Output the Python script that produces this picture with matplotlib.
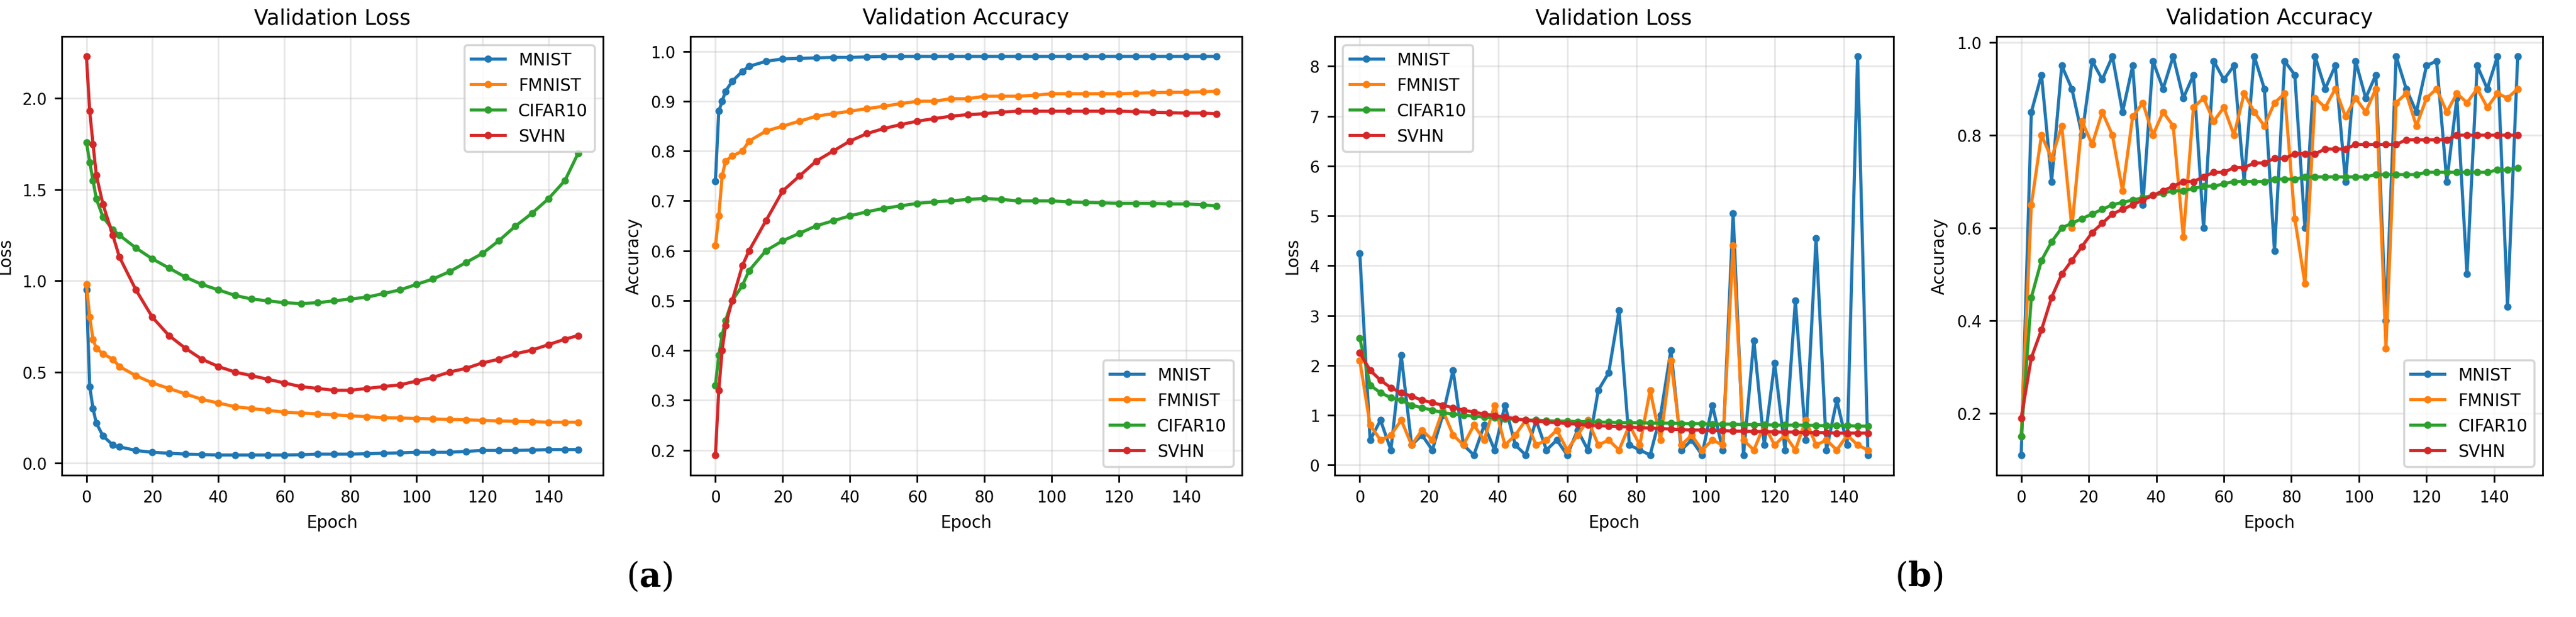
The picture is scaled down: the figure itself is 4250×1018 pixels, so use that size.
import matplotlib
matplotlib.use("Agg")
import matplotlib.pyplot as plt

names = ["MNIST", "FMNIST", "CIFAR10", "SVHN"]
colors = ["#1f77b4", "#ff7f0e", "#2ca02c", "#d62728"]

# (a) smooth runs
a_epochs = [0, 1, 2, 3, 5, 8, 10, 15, 20, 25, 30, 35, 40, 45, 50, 55, 60, 65, 70, 75,
            80, 85, 90, 95, 100, 105, 110, 115, 120, 125, 130, 135, 140, 145, 149]
a_loss = {
    "MNIST": [0.95, 0.42, 0.3, 0.22, 0.15, 0.1, 0.09, 0.07, 0.06, 0.055,
              0.05, 0.048, 0.045, 0.045, 0.045, 0.045, 0.045, 0.047, 0.05, 0.05,
              0.05, 0.052, 0.055, 0.057, 0.06, 0.06, 0.06, 0.065, 0.07, 0.07,
              0.07, 0.072, 0.075, 0.075, 0.075],
    "FMNIST": [0.98, 0.8, 0.68, 0.63, 0.6, 0.57, 0.53, 0.48, 0.44, 0.41,
               0.38, 0.35, 0.33, 0.31, 0.3, 0.29, 0.28, 0.275, 0.27, 0.265,
               0.26, 0.255, 0.25, 0.248, 0.245, 0.243, 0.24, 0.238, 0.235, 0.232,
               0.23, 0.228, 0.225, 0.225, 0.225],
    "CIFAR10": [1.76, 1.65, 1.55, 1.45, 1.35, 1.28, 1.25, 1.18, 1.12, 1.07,
                1.02, 0.98, 0.95, 0.92, 0.9, 0.89, 0.88, 0.875, 0.88, 0.89,
                0.9, 0.91, 0.93, 0.95, 0.98, 1.01, 1.05, 1.1, 1.15, 1.22,
                1.3, 1.37, 1.45, 1.55, 1.7],
    "SVHN": [2.23, 1.93, 1.75, 1.58, 1.42, 1.25, 1.13, 0.95, 0.8, 0.7,
             0.63, 0.57, 0.53, 0.5, 0.48, 0.46, 0.44, 0.42, 0.41, 0.4,
             0.4, 0.41, 0.42, 0.43, 0.45, 0.47, 0.5, 0.52, 0.55, 0.57,
             0.6, 0.62, 0.65, 0.68, 0.7],
}
a_acc = {
    "MNIST": [0.74, 0.88, 0.9, 0.92, 0.94, 0.96, 0.97, 0.98, 0.985, 0.986,
              0.987, 0.988, 0.988, 0.989, 0.99, 0.99, 0.99, 0.99, 0.99, 0.99,
              0.99, 0.99, 0.99, 0.99, 0.99, 0.99, 0.99, 0.99, 0.99, 0.99,
              0.99, 0.99, 0.99, 0.99, 0.99],
    "FMNIST": [0.61, 0.67, 0.75, 0.78, 0.79, 0.8, 0.82, 0.84, 0.85, 0.86,
               0.87, 0.875, 0.88, 0.885, 0.89, 0.895, 0.9, 0.9, 0.905, 0.905,
               0.91, 0.91, 0.91, 0.912, 0.915, 0.915, 0.915, 0.915, 0.915, 0.916,
               0.917, 0.918, 0.918, 0.919, 0.92],
    "CIFAR10": [0.33, 0.39, 0.43, 0.46, 0.5, 0.53, 0.56, 0.6, 0.62, 0.635,
                0.65, 0.66, 0.67, 0.678, 0.685, 0.69, 0.695, 0.698, 0.7, 0.703,
                0.705, 0.703, 0.7, 0.7, 0.7, 0.698, 0.697, 0.696, 0.695, 0.695,
                0.695, 0.694, 0.694, 0.692, 0.69],
    "SVHN": [0.19, 0.32, 0.4, 0.45, 0.5, 0.57, 0.6, 0.66, 0.72, 0.75,
             0.78, 0.8, 0.82, 0.835, 0.845, 0.853, 0.86, 0.865, 0.87, 0.873,
             0.875, 0.878, 0.88, 0.88, 0.88, 0.88, 0.88, 0.88, 0.88, 0.879,
             0.878, 0.877, 0.876, 0.876, 0.875],
}

# (b) noisy runs, every 3rd epoch
b_epochs = list(range(0, 150, 3))
b_loss = {
    "MNIST": [4.25, 0.5, 0.9, 0.3, 2.2, 0.4, 0.6, 0.3, 1.0, 1.9,
              0.4, 0.2, 0.8, 0.3, 1.2, 0.4, 0.2, 0.9, 0.3, 0.5,
              0.2, 0.7, 0.3, 1.5, 1.85, 3.1, 0.4, 0.3, 0.2, 1.0,
              2.3, 0.3, 0.5, 0.2, 1.2, 0.3, 5.05, 0.2, 2.5, 0.4,
              2.05, 0.3, 3.3, 0.5, 4.55, 0.3, 1.3, 0.4, 8.2, 0.2],
    "FMNIST": [2.1, 0.8, 0.5, 0.6, 0.9, 0.4, 0.7, 0.5, 1.1, 0.6,
               0.4, 0.8, 0.5, 1.2, 0.4, 0.6, 0.9, 0.4, 0.5, 0.7,
               0.3, 0.6, 0.9, 0.4, 0.5, 0.3, 0.8, 0.4, 1.5, 0.5,
               2.1, 0.4, 0.6, 0.3, 0.5, 0.4, 4.4, 0.5, 0.3, 0.8,
               0.4, 0.6, 0.3, 0.9, 0.4, 0.5, 0.3, 0.6, 0.4, 0.3],
    "CIFAR10": [2.55, 1.6, 1.45, 1.35, 1.3, 1.2, 1.15, 1.1, 1.05, 1.02,
                1.0, 0.98, 0.96, 0.95, 0.93, 0.92, 0.9, 0.9, 0.89, 0.88,
                0.88, 0.87, 0.87, 0.86, 0.86, 0.85, 0.85, 0.85, 0.84, 0.84,
                0.84, 0.83, 0.83, 0.83, 0.82, 0.82, 0.82, 0.81, 0.81, 0.81,
                0.8, 0.8, 0.8, 0.8, 0.79, 0.79, 0.79, 0.79, 0.78, 0.78],
    "SVHN": [2.25, 1.9, 1.7, 1.55, 1.45, 1.38, 1.3, 1.25, 1.2, 1.15,
             1.1, 1.06, 1.02, 0.99, 0.96, 0.93, 0.9, 0.88, 0.86, 0.85,
             0.83, 0.82, 0.8, 0.79, 0.78, 0.77, 0.76, 0.75, 0.74, 0.73,
             0.72, 0.71, 0.7, 0.7, 0.69, 0.69, 0.68, 0.68, 0.67, 0.67,
             0.66, 0.66, 0.66, 0.65, 0.65, 0.65, 0.64, 0.64, 0.64, 0.64],
}
b_acc = {
    "MNIST": [0.11, 0.85, 0.93, 0.7, 0.95, 0.9, 0.8, 0.96, 0.92, 0.97,
              0.85, 0.95, 0.65, 0.96, 0.9, 0.97, 0.88, 0.93, 0.6, 0.96,
              0.92, 0.95, 0.7, 0.97, 0.9, 0.55, 0.96, 0.93, 0.6, 0.97,
              0.9, 0.95, 0.7, 0.96, 0.88, 0.93, 0.4, 0.97, 0.9, 0.85,
              0.95, 0.96, 0.7, 0.88, 0.5, 0.95, 0.9, 0.97, 0.43, 0.97],
    "FMNIST": [0.15, 0.65, 0.8, 0.75, 0.82, 0.6, 0.83, 0.78, 0.85, 0.8,
               0.68, 0.84, 0.87, 0.8, 0.85, 0.82, 0.58, 0.86, 0.88, 0.83,
               0.86, 0.8, 0.89, 0.85, 0.82, 0.87, 0.89, 0.62, 0.48, 0.88,
               0.86, 0.9, 0.84, 0.88, 0.85, 0.9, 0.34, 0.87, 0.89, 0.82,
               0.88, 0.9, 0.85, 0.89, 0.87, 0.9, 0.86, 0.89, 0.88, 0.9],
    "CIFAR10": [0.15, 0.45, 0.53, 0.57, 0.6, 0.61, 0.62, 0.63, 0.64, 0.65,
                0.655, 0.66, 0.665, 0.67, 0.675, 0.68, 0.68, 0.685, 0.69, 0.69,
                0.695, 0.7, 0.7, 0.7, 0.7, 0.705, 0.705, 0.705, 0.71, 0.71,
                0.71, 0.71, 0.71, 0.71, 0.71, 0.715, 0.715, 0.715, 0.715, 0.715,
                0.72, 0.72, 0.72, 0.72, 0.72, 0.72, 0.72, 0.725, 0.725, 0.73],
    "SVHN": [0.19, 0.32, 0.38, 0.45, 0.5, 0.53, 0.56, 0.59, 0.61, 0.63,
             0.64, 0.65, 0.66, 0.67, 0.68, 0.69, 0.7, 0.7, 0.71, 0.72,
             0.72, 0.73, 0.73, 0.74, 0.74, 0.75, 0.75, 0.76, 0.76, 0.76,
             0.77, 0.77, 0.77, 0.78, 0.78, 0.78, 0.78, 0.78, 0.79, 0.79,
             0.79, 0.79, 0.79, 0.8, 0.8, 0.8, 0.8, 0.8, 0.8, 0.8],
}

fig = plt.figure(figsize=(17, 4.076), dpi=250)
boxes = [(0.024, 0.234), (0.268, 0.482), (0.518, 0.735), (0.775, 0.987)]
panels = [
    (a_epochs, a_loss, "Validation Loss", "Loss", "upper right"),
    (a_epochs, a_acc, "Validation Accuracy", "Accuracy", "lower right"),
    (b_epochs, b_loss, "Validation Loss", "Loss", "upper left"),
    (b_epochs, b_acc, "Validation Accuracy", "Accuracy", "lower right"),
]
for (l, r), (ep, data, title, ylab, loc) in zip(boxes, panels):
    ax = fig.add_axes([l, 0.23, r - l, 0.71])
    for n, c in zip(names, colors):
        ax.plot(ep, data[n], marker="o", markersize=2.5, linewidth=1.5, color=c, label=n)
    ax.set_title(title, fontsize=10)
    ax.set_xlabel("Epoch", fontsize=8)
    ax.set_ylabel(ylab, fontsize=8)
    ax.tick_params(labelsize=7.5)
    ax.set_xticks(range(0, 141, 20))
    ax.grid(alpha=0.3)
    ax.legend(loc=loc, fontsize=8)

plt.rcParams["mathtext.fontset"] = "dejavuserif"
fig.text(0.252, 0.05, r"($\mathbf{a}$)", fontsize=16, family="DejaVu Serif", ha="center")
fig.text(0.745, 0.05, r"($\mathbf{b}$)", fontsize=16, family="DejaVu Serif", ha="center")
fig.savefig("out.png")
